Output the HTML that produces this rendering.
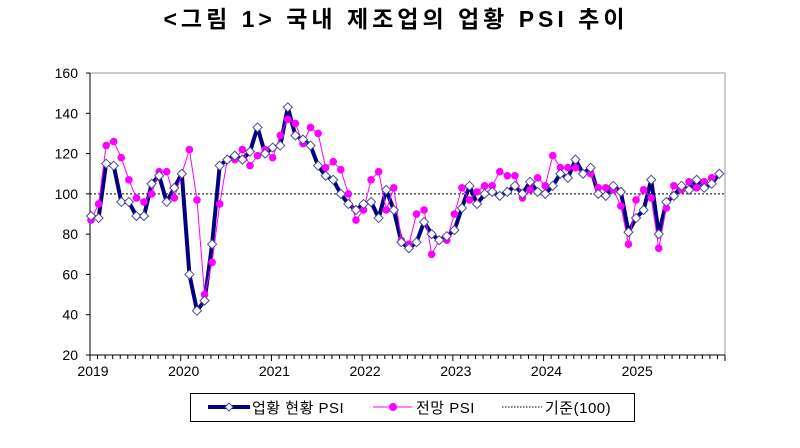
<!DOCTYPE html>
<html><head><meta charset="utf-8"><style>
body{margin:0;background:#fff;width:800px;height:443px;overflow:hidden}
</style></head><body>
<svg id="s" width="800" height="443" xmlns="http://www.w3.org/2000/svg" font-family="Liberation Sans, Noto Sans CJK KR, sans-serif">
<text x="396" y="27" text-anchor="middle" font-size="23" font-weight="bold" letter-spacing="4" font-family="Liberation Sans, Noto Sans CJK KR, sans-serif">&lt;그림 1&gt; 국내 제조업의 업황 PSI 추이</text>
<rect x="90" y="73" width="635" height="282" fill="none" stroke="#999" stroke-width="1"/>
<line x1="90" y1="73" x2="90" y2="355" stroke="#000"/>
<line x1="90" y1="355" x2="725" y2="355" stroke="#000"/>
<g id="g"></g>
<rect x="190.5" y="393.5" width="444" height="28" fill="#fff" stroke="#000"/>
<line x1="208" y1="407" x2="250" y2="407" stroke="#000080" stroke-width="4"/>
<path d="M229 403 L233 407 L229 411 L225 407Z" fill="#fff" stroke="#4a4aa0"/>
<text x="252" y="413" font-size="15" letter-spacing="0.5">업황 현황 PSI</text>
<line x1="373" y1="407" x2="412" y2="407" stroke="#ff00ff" stroke-width="1"/>
<circle cx="393" cy="407" r="4" fill="#ff00ff"/>
<text x="416" y="413" font-size="15" letter-spacing="0.5">전망 PSI</text>
<line x1="502" y1="407" x2="542" y2="407" stroke="#000" stroke-dasharray="1.5,1.5"/>
<text x="545" y="413" font-size="15" letter-spacing="0.5">기준(100)</text>
</svg>
<script>
var g=document.getElementById('g'),h='';
function Y(v){return 355-(v-20)*2.014}
function X(i){return 91+i*7.57}
for(var v=20;v<=160;v+=20){h+='<text x="78" y="'+(Y(v)+5)+'" text-anchor="end" font-size="14">'+v+'</text>';h+='<line x1="86" y1="'+Y(v)+'" x2="90" y2="'+Y(v)+'" stroke="#000"/>';}
for(var i=0;i<=84;i++){var x=90+i*(635/84);h+='<line x1="'+x+'" y1="355" x2="'+x+'" y2="'+(i%12==0?361:359)+'" stroke="#000"/>';}
for(var k=0;k<7;k++)h+='<text x="'+(93+k*90.7)+'" y="376" text-anchor="middle" font-size="14">'+(2019+k)+'</text>';
h+='<line x1="90" y1="'+Y(100)+'" x2="725" y2="'+Y(100)+'" stroke="#000" stroke-dasharray="2,2"/>';
var n=[89,88,115,114,96,96,89,89,105,109,96,103,110,60,42,47,75,114,117,119,117,121,133,120,123,124,143,129,127,124,114,109,107,100,95,92,95,96,88,102,92,76,73,76,86,80,77,79,82,93,104,95,100,101,99,101,104,100,106,101,100,104,110,108,117,110,113,100,99,104,101,81,88,92,107,80,96,99,104,102,107,103,105,110];
var m=[87,95,124,126,118,107,98,96,100,111,111,98,110,122,97,50,66,95,117,117,122,114,119,122,118,129,137,135,125,133,130,113,116,112,100,87,92,107,111,92,103,77,75,90,92,70,77,77,90,103,97,101,104,104,111,109,109,98,102,108,104,119,113,113,113,110,110,103,103,102,94,75,97,102,98,73,93,104,102,106,103,106,108,110];
function pts(a){return a.map(function(v,i){return X(i).toFixed(1)+','+Y(v).toFixed(1)}).join(' ')}
h+='<polyline points="'+pts(n)+'" fill="none" stroke="#000080" stroke-width="4" stroke-linejoin="round"/>';
h+='<polyline points="'+pts(m)+'" fill="none" stroke="#ff00ff" stroke-width="1"/>';
m.forEach(function(v,i){h+='<circle cx="'+X(i)+'" cy="'+Y(v)+'" r="3.8" fill="#ff00ff"/>'});
n.forEach(function(v,i){var x=X(i),y=Y(v);h+='<path d="M'+x+' '+(y-4.5)+' L'+(x+4.5)+' '+y+' L'+x+' '+(y+4.5)+' L'+(x-4.5)+' '+y+'Z" fill="#fff" stroke="#4a4aa0" stroke-width="1"/>'});
g.innerHTML=h;
</script>
</body></html>
